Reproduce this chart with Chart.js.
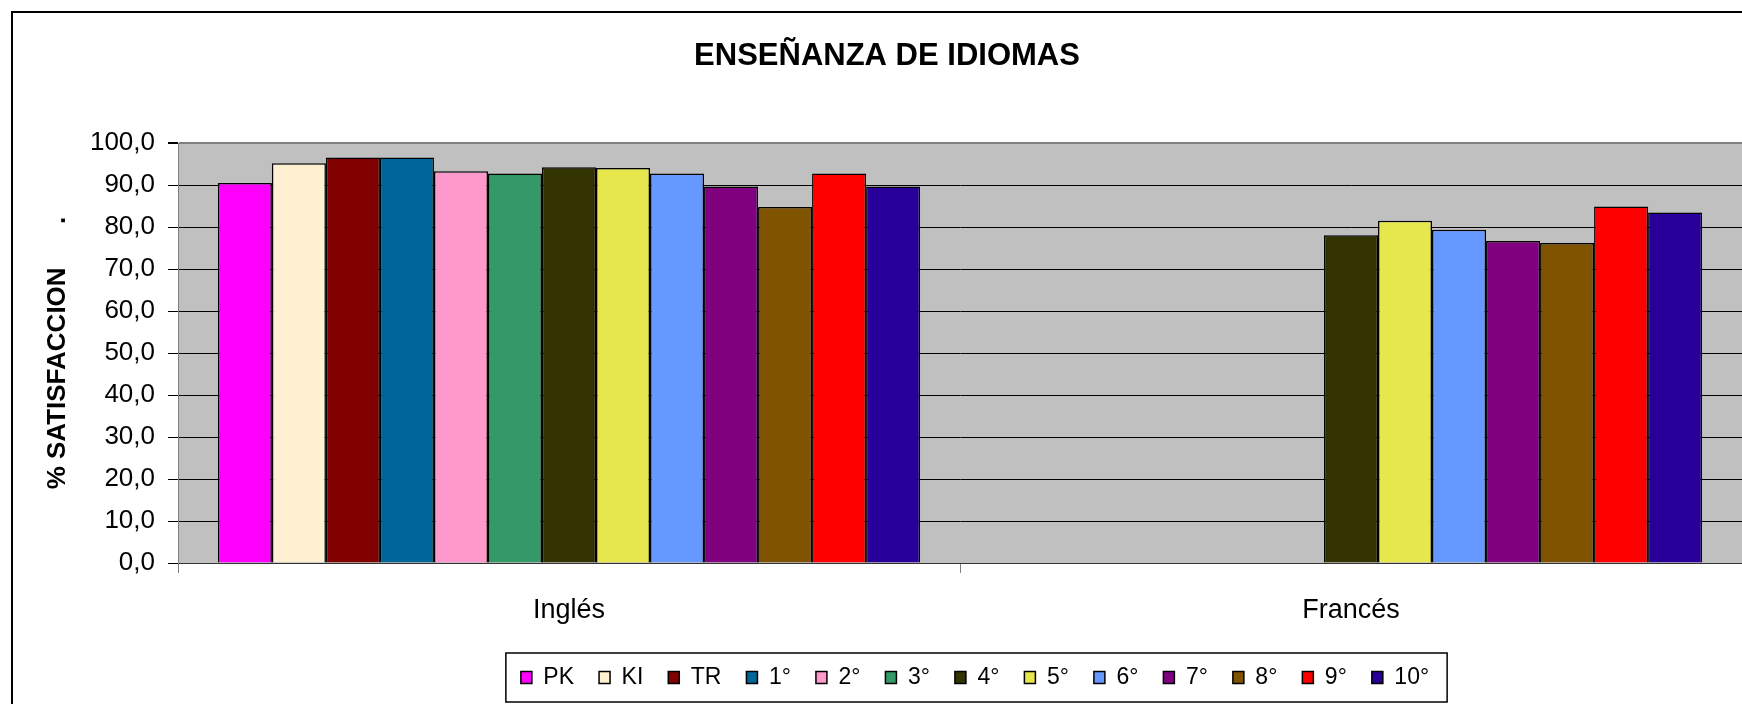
<!DOCTYPE html>
<html>
<head>
<meta charset="utf-8">
<script src="https://cdn.jsdelivr.net/npm/chart.js@4.4.1/dist/chart.umd.min.js"></script>
<style>
  html, body { margin: 0; padding: 0; background: #fff; }
  #wrap { width: 1742px; height: 704px; position: relative; }
</style>
</head>
<body>
<div id="wrap"><canvas id="idiomasChart"></canvas></div>
<script>
  // Satisfaction per grade
  const categories = ['Inglés', 'Francés'];
  const grades = ['PK', 'KI', 'TR', '1°', '2°', '3°', '4°', '5°', '6°', '7°', '8°', '9°', '10°'];
  const ingles = [90.5, 95.2, 96.6, 96.6, 93.3, 92.8, 94.3, 94.1, 92.8, 89.7, 84.8, 92.8, 89.7];
  const frances = [null, null, null, null, null, null, 78.1, 81.5, 79.4, 76.7, 76.2, 84.9, 83.5];
  const gradeColors = ['#FF00FF', '#FFF0D2', '#800000', '#006699', '#FF99CC', '#339966', '#333300',
    '#E6E64D', '#6699FF', '#800080', '#805300', '#FF0000', '#280099'];
  const yTicks = [0, 10, 20, 30, 40, 50, 60, 70, 80, 90, 100];

  Chart.defaults.font.family = '"Liberation Sans", Arial, sans-serif';
  Chart.defaults.color = '#000';

  const datasets = grades.map((g, i) => ({
    label: g,
    data: [ingles[i], frances[i]],
    backgroundColor: gradeColors[i],
    borderColor: '#000',
    borderWidth: 1.5
  }));

  // grey plot background, outer frame, legend frame, and title/legend centring
  const excelLook = {
    id: 'excelLook',
    afterLayout(chart) {
      chart.titleBlock.left = 32;
      chart.legend.left = 208;
    },
    beforeDraw(chart) {
      const { ctx, chartArea } = chart;
      ctx.save();
      ctx.fillStyle = '#C0C0C0';
      ctx.fillRect(chartArea.left, chartArea.top, chartArea.right - chartArea.left, chartArea.bottom - chartArea.top);
      ctx.strokeStyle = '#000';
      ctx.lineWidth = 2;
      ctx.strokeRect(12, 12, 2000, 2000);
      ctx.restore();
    },
    afterDraw(chart) {
      const boxes = chart.legend.legendHitBoxes;
      if (!boxes || !boxes.length) return;
      const first = boxes[0];
      const last = boxes[boxes.length - 1];
      const cy = first.top + first.height / 2;
      const ctx = chart.ctx;
      ctx.save();
      ctx.strokeStyle = '#000';
      ctx.lineWidth = 1.5;
      ctx.strokeRect(first.left - 15, cy - 24.5, last.left + last.width + 18 - (first.left - 15), 49);
      ctx.restore();
    }
  };

  new Chart(document.getElementById('idiomasChart'), {
    type: 'bar',
    data: {
      labels: categories,
      datasets: datasets
    },
    options: {
      responsive: true,
      maintainAspectRatio: false,
      animation: false,
      datasets: {
        bar: { categoryPercentage: 0.898, barPercentage: 1.0 }
      },
      layout: { padding: { left: 0, right: 0, top: 0, bottom: 5 } },
      plugins: {
        title: {
          display: true,
          text: 'ENSEÑANZA DE IDIOMAS',
          font: { size: 31, weight: 'bold' },
          padding: { top: 38, bottom: 68 }
        },
        legend: {
          position: 'bottom',
          labels: {
            boxWidth: 11,
            boxHeight: 12,
            padding: 25,
            font: { size: 23 }
          }
        },
        tooltip: { enabled: false }
      },
      scales: {
        x: {
          grid: {
            display: true,
            drawOnChartArea: false,
            drawTicks: true,
            tickLength: 10,
            tickColor: '#808080',
            offset: true
          },
          border: { display: true, color: '#333' },
          ticks: { font: { size: 27 }, padding: 21 },
          afterFit(scale) { scale.height = 78; }
        },
        y: {
          min: 0,
          max: 100,
          afterBuildTicks(scale) { scale.ticks = yTicks.map(v => ({ value: v })); },
          grid: {
            color: c => (c.tick && c.tick.value === 100 ? '#808080' : '#000'),
            lineWidth: c => (c.tick && c.tick.value === 100 ? 2 : 1),
            tickColor: '#000',
            tickLength: 10
          },
          border: { display: true, color: '#808080' },
          ticks: {
            font: { size: 26 },
            padding: 13,
            callback: v => v.toFixed(1).replace('.', ',')
          },
          title: {
            display: true,
            text: '% SATISFACCION      .',
            font: { size: 26, weight: 'bold' },
            padding: { top: 42, bottom: 0 }
          },
          afterFit(scale) { scale.width = 178; }
        }
      }
    },
    plugins: [excelLook]
  });
</script>
</body>
</html>
